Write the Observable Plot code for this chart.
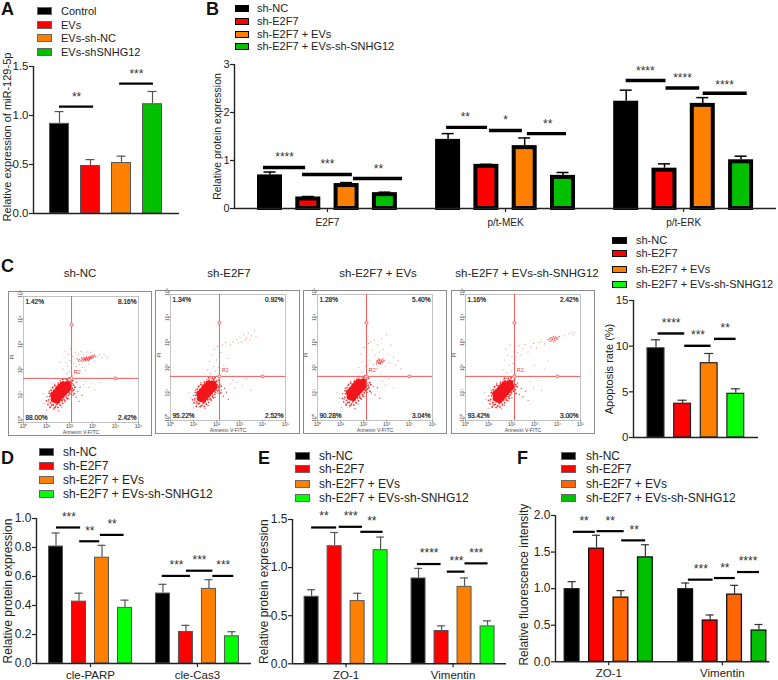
<!DOCTYPE html>
<html><head><meta charset="utf-8">
<style>
html,body{margin:0;padding:0;background:#fff}
body{position:relative;width:778px;height:680px;overflow:hidden;font-family:"Liberation Sans",Arial,sans-serif;color:#222}
.abs{position:absolute}
.letter{position:absolute;font-weight:bold;font-size:18px;line-height:18px;color:#111}
.leg{position:absolute;white-space:nowrap;line-height:12px}
.sw{position:absolute;box-sizing:border-box}
.ttl{position:absolute;font-size:11.5px;white-space:nowrap;transform:translateX(-50%)}
.flow{position:absolute;box-sizing:border-box;border:1px solid #8c8c8c}
</style>
</head><body>
<script src="https://cdn.jsdelivr.net/npm/d3@7"></script>
<script src="https://cdn.jsdelivr.net/npm/@observablehq/plot@0.6"></script>
<script>
// ---------- data ----------
const legendA = ["Control","EVs","EVs-sh-NC","EVs-shSNHG12"];
const legendB = ["sh-NC","sh-E2F7","sh-E2F7 + EVs","sh-E2F7 + EVs-sh-SNHG12"];
const colorsA = ["#000000","#ff0000","#ff8000","#00c000"];
const colorsC = ["#000000","#ff0000","#ff8000","#00ff00"];
const colorsF = ["#000000","#ff0000","#ff6600","#00c000"];

const aValues = [[0.92,0.49,0.52,1.12]];
const aErrors = [[1.04,0.55,0.585,1.245]];
const aSig = [[0,1.1,1.09,"**",0.55,1.22],[1.94,3.03,1.325,"***",2.48,1.45]];

const bGroups = ["E2F7","p/t-MEK","p/t-ERK"];
const bValues = [[0.70,0.24,0.52,0.33],[1.44,0.92,1.31,0.69],[2.235,0.84,2.19,1.015]];
const bErrors = [[0.76,0.25,0.54,0.34],[1.56,0.92,1.47,0.75],[2.465,0.93,2.31,1.09]];
const bSig = [[-0.17,0.93,0.854,"****",0.38,1.125],[0.85,2.15,0.708,"***",1.5,0.98],[2.18,3.46,0.625,"**",2.83,0.875],
 [4.61,5.68,1.69,"**",5.1,1.96],[5.73,6.59,1.625,"*",6.15,1.9],[6.72,7.74,1.56,"**",7.25,1.81],
 [9.3,10.34,2.667,"****",9.8,2.93],[10.34,11.22,2.51,"****",10.77,2.78],[11.31,12.46,2.4,"****",11.87,2.63]];

const cValues = [[9.82,3.76,8.2,4.85]];
const cErrors = [[10.7,4.08,9.2,5.33]];
const cSig = [[0.08,1.08,11.39,"****",0.57,12.85],[1.08,2.07,10.04,"***",1.58,11.54],[2.2,3.01,10.8,"**",2.6,12.3]];

const dGroups = ["cle-PARP","cle-Cas3"];
const dValues = [[0.81,0.43,0.733,0.387],[0.486,0.221,0.518,0.191]];
const dErrors = [[0.90,0.485,0.815,0.437],[0.546,0.263,0.578,0.219]];
const dSig = [[0.02,1.07,0.938,"***",0.56,1.032],[1.03,1.9,0.843,"**",1.47,0.935],[1.93,2.96,0.887,"**",2.44,0.984],
 [4.62,5.85,0.604,"***",5.24,0.698],[5.67,6.82,0.64,"***",6.24,0.735],[6.82,7.73,0.604,"***",7.27,0.698]];

const eGroups = ["ZO-1","Vimentin"];
const eValues = [[0.702,1.227,0.657,1.186],[0.892,0.346,0.805,0.394]];
const eErrors = [[0.77,1.365,0.733,1.317],[0.992,0.394,0.892,0.446]];
const eSig = [[0,1.09,1.417,"**",0.54,1.562],[1.2,2.21,1.424,"***",1.7,1.569],[2.14,3.11,1.372,"**",2.62,1.51],
 [4.6,5.63,1.037,"****",5.11,1.182],[5.9,6.67,0.958,"***",6.3,1.1],[6.67,7.67,1.044,"***",7.16,1.182]];

const fValues = [[1.0,1.555,0.886,1.436],[1.0,0.573,0.927,0.436]];
const fErrors = [[1.095,1.73,0.973,1.6],[1.077,0.64,1.045,0.51]];
const fSig = [[0.05,0.95,1.777,"**",0.49,1.964],[1.02,2.13,1.786,"**",1.56,1.968],[2.03,3.01,1.66,"**",2.54,1.84],
 [4.76,5.77,1.123,"***",5.27,1.309],[5.83,6.68,1.145,"**",6.25,1.327],[6.77,7.67,1.227,"****",7.2,1.418]];

// flow cytometry: log10(Annexin V-FITC), log10(PI)
const flowTitles = ["sh-NC","sh-E2F7","sh-E2F7 + EVs","sh-E2F7 + EVs-sh-SNHG12"];
const flowPercents = [["1.42%","8.16%","88.00%","2.42%"],["1.34%","0.92%","95.22%","2.52%"],["1.28%","5.40%","90.28%","3.04%"],["1.16%","2.42%","93.42%","3.00%"]];

const flowCore = [
 [[1.32,0.82],[1.42,0.92],[1.52,1.02],[1.62,1.12],[1.72,1.22],[1.82,1.32],[1.92,1.42],[1.30,1.0],[1.40,1.10],[1.50,1.20],[1.60,1.30],[1.70,1.40],[1.46,0.78],[1.56,0.88],[1.66,0.98],[1.76,1.08],[1.86,1.18],[1.94,1.28]],
 [[1.28,0.78],[1.38,0.88],[1.48,0.98],[1.58,1.08],[1.68,1.18],[1.78,1.28],[1.86,1.36],[1.26,0.96],[1.36,1.06],[1.46,1.16],[1.56,1.26],[1.66,1.36],[1.42,0.74],[1.52,0.84],[1.62,0.94],[1.72,1.04],[1.82,1.14],[1.9,1.24]],
 [[1.40,0.84],[1.50,0.94],[1.60,1.04],[1.70,1.14],[1.80,1.24],[1.90,1.34],[1.98,1.44],[1.38,1.02],[1.48,1.12],[1.58,1.22],[1.68,1.32],[1.78,1.42],[1.54,0.80],[1.64,0.90],[1.74,1.0],[1.84,1.10],[1.94,1.20],[2.02,1.30]],
 [[1.32,0.78],[1.42,0.86],[1.52,0.96],[1.62,1.06],[1.72,1.16],[1.82,1.26],[1.94,1.38],[1.30,0.96],[1.40,1.04],[1.50,1.14],[1.60,1.24],[1.72,1.34],[1.48,0.72],[1.58,0.82],[1.68,0.92],[1.78,1.02],[1.88,1.12],[1.98,1.24]]
];
const flowFringe = [
 [[1.1,0.8],[1.14,0.94],[1.18,0.68],[1.12,1.06],[1.2,1.18],[1.24,0.58],[1.26,1.28],[1.3,0.6],[1.34,0.7],[1.36,1.36],[1.4,0.54],[1.44,1.32],[1.46,0.62],[1.5,0.66],[1.52,1.42],[1.56,0.7],[1.6,0.58],[1.62,1.48],[1.66,0.76],[1.7,0.66],[1.72,1.52],[1.76,0.82],[1.8,0.76],[1.82,1.5],[1.86,0.9],[1.9,0.84],[1.92,1.56],[1.96,0.98],[2.0,1.06],[2.04,1.5],[2.02,1.2],[2.06,1.36],[2.1,1.12],[2.12,1.26],[2.16,1.18],[2.18,1.38],[2.2,1.04],[2.24,1.3],[1.06,0.62],[1.0,0.76],[1.16,0.5],[1.34,0.48],[1.5,0.5],[1.98,1.66],[1.86,1.62],[1.7,1.62],[2.14,1.56]],
 [[1.06,0.76],[1.1,0.9],[1.14,0.64],[1.08,1.02],[1.16,1.14],[1.2,0.56],[1.22,1.24],[1.26,0.58],[1.3,0.66],[1.32,1.32],[1.36,0.5],[1.4,1.3],[1.42,0.58],[1.46,0.62],[1.48,1.4],[1.52,0.66],[1.56,0.54],[1.58,1.44],[1.62,0.72],[1.66,0.62],[1.68,1.5],[1.72,0.78],[1.76,0.72],[1.78,1.46],[1.82,0.86],[1.86,0.8],[1.88,1.52],[1.92,0.94],[1.96,1.02],[2.0,1.44],[1.98,1.16],[2.02,1.32],[2.06,1.08],[2.08,1.22],[2.12,1.14],[2.14,1.34],[2.18,1.0],[2.2,1.26],[1.02,0.6],[0.96,0.72],[1.12,0.46],[1.3,0.46],[1.46,0.46],[1.94,1.6],[1.82,1.58],[1.66,1.6],[2.1,1.5]],
 [[1.18,0.82],[1.22,0.96],[1.26,0.7],[1.2,1.08],[1.28,1.2],[1.32,0.6],[1.34,1.3],[1.38,0.62],[1.42,0.72],[1.44,1.38],[1.48,0.56],[1.52,1.34],[1.54,0.64],[1.58,0.68],[1.6,1.44],[1.64,0.72],[1.68,0.6],[1.7,1.5],[1.74,0.78],[1.78,0.68],[1.8,1.54],[1.84,0.84],[1.88,0.78],[1.9,1.52],[1.94,0.92],[1.98,0.86],[2.0,1.58],[2.04,1.0],[2.08,1.08],[2.12,1.52],[2.1,1.22],[2.14,1.38],[2.18,1.14],[2.2,1.28],[2.24,1.2],[2.26,1.4],[2.28,1.06],[2.32,1.32],[1.14,0.64],[1.08,0.78],[1.24,0.52],[1.42,0.5],[1.58,0.52],[2.06,1.68],[1.94,1.64],[1.78,1.64],[2.22,1.58]],
 [[1.1,0.74],[1.14,0.88],[1.18,0.62],[1.12,1.0],[1.2,1.12],[1.24,0.52],[1.26,1.22],[1.3,0.54],[1.34,0.64],[1.36,1.3],[1.4,0.48],[1.44,1.28],[1.46,0.56],[1.5,0.6],[1.52,1.38],[1.56,0.64],[1.6,0.52],[1.62,1.42],[1.66,0.7],[1.7,0.6],[1.72,1.48],[1.76,0.76],[1.8,0.7],[1.82,1.46],[1.86,0.84],[1.9,0.78],[1.92,1.5],[1.96,0.92],[2.0,1.0],[2.04,1.46],[2.02,1.14],[2.06,1.3],[2.1,1.06],[2.12,1.2],[2.16,1.12],[2.18,1.32],[2.2,0.98],[2.24,1.24],[1.06,0.56],[1.0,0.7],[1.16,0.44],[1.34,0.42],[1.5,0.44],[1.98,1.6],[1.86,1.56],[1.7,1.58],[2.14,1.52]]
];
const flowHalo = [
 [[1.02,0.92],[1.08,0.72],[1.12,1.14],[1.15,0.55],[1.2,1.02],[1.22,0.62],[1.28,1.3],[1.3,0.42],[1.35,1.42],[1.38,0.5],[1.42,0.66],[1.5,1.48],[1.52,0.36],[1.58,0.6],[1.6,1.56],[1.66,0.52],[1.7,0.78],[1.75,1.62],[1.8,0.72],[1.88,0.92],[1.92,1.62],[1.96,0.84],[2.0,1.12],[2.02,1.56],[2.06,1.02],[2.08,1.3],[2.14,1.44],[2.16,0.98],[2.22,1.22],[2.28,0.9],[2.3,1.5],[2.36,1.12],[2.42,0.74],[2.46,1.3],[2.55,0.98],[2.6,2.38],[2.66,2.44],[2.7,2.4],[2.76,2.46],[2.8,2.42],[2.84,2.5],[2.88,2.46],[2.92,2.52],[2.96,2.48],[3.02,2.54],[2.56,2.42],[2.5,2.36],[2.72,2.34],[2.82,2.36],[3.08,2.58],[2.44,2.4],[2.62,2.48],[2.68,2.36],[2.74,2.5],[2.78,2.38],[2.86,2.42],[2.9,2.5],[2.94,2.44],[3.0,2.46],[3.04,2.5],[2.52,2.46],[2.58,2.32],[2.64,2.4],[2.7,2.46],[2.76,2.42],[2.82,2.46],[2.88,2.4],[2.98,2.56],[3.12,2.52],[2.4,2.34],[2.34,2.42]],
 [[1.0,0.9],[1.05,0.7],[1.1,1.1],[1.12,0.56],[1.18,1.0],[1.2,0.6],[1.24,1.28],[1.28,0.44],[1.32,1.4],[1.36,0.5],[1.4,0.64],[1.46,1.46],[1.5,0.38],[1.55,0.58],[1.58,1.52],[1.64,0.5],[1.68,0.74],[1.72,1.58],[1.78,0.7],[1.84,0.9],[1.9,1.58],[1.94,0.82],[1.98,1.1],[2.0,1.5],[2.06,0.98],[2.08,1.28],[2.12,1.4],[2.2,1.1],[2.3,0.86],[2.36,1.18],[2.44,1.02],[2.52,0.74]],
 [[1.1,0.96],[1.16,0.74],[1.2,1.18],[1.24,0.58],[1.28,1.06],[1.32,0.64],[1.36,1.34],[1.4,0.44],[1.45,1.46],[1.48,0.52],[1.54,0.68],[1.6,1.5],[1.62,0.38],[1.68,0.62],[1.72,1.58],[1.78,0.56],[1.82,0.8],[1.86,1.64],[1.92,0.74],[1.98,0.94],[2.02,1.62],[2.06,0.86],[2.1,1.14],[2.14,1.52],[2.18,1.02],[2.22,1.3],[2.28,1.42],[2.34,1.0],[2.42,1.26],[2.5,0.92],[2.6,1.2],[2.7,0.78],[2.64,2.2],[2.68,2.28],[2.72,2.22],[2.76,2.3],[2.8,2.24],[2.6,2.28],[2.84,2.34],[2.7,2.16],[2.56,2.14],[2.9,2.28],[2.62,2.24],[2.66,2.18],[2.7,2.3],[2.74,2.2],[2.78,2.26],[2.82,2.2],[2.58,2.22],[2.66,2.34],[2.86,2.26],[2.74,2.14]],
 [[1.02,0.88],[1.08,0.68],[1.12,1.08],[1.16,0.54],[1.2,0.98],[1.24,0.6],[1.28,1.26],[1.32,0.42],[1.36,1.38],[1.4,0.48],[1.46,0.62],[1.52,1.44],[1.56,0.36],[1.6,0.56],[1.66,1.52],[1.7,0.5],[1.76,0.72],[1.8,1.58],[1.86,0.68],[1.92,0.88],[1.98,1.58],[2.02,0.8],[2.06,1.08],[2.1,1.48],[2.16,0.96],[2.2,1.26],[2.26,1.38],[2.34,0.94],[2.42,1.18],[2.5,0.84],[2.62,1.06],[2.72,0.7],[3.7,3.12],[3.76,3.18],[3.8,3.14],[3.84,3.2],[3.88,3.16],[3.92,3.22],[3.74,3.06],[3.86,3.1],[3.96,3.14],[3.66,3.16],[4.02,3.2],[3.72,3.2],[3.78,3.1],[3.82,3.24],[3.9,3.08],[3.94,3.18],[4.0,3.12],[3.62,3.1],[3.68,3.04],[4.08,3.24],[3.84,3.02]]
];
const flowSparse = [
 [[1.72,2.02],[1.76,2.5],[1.8,2.74],[1.84,2.28],[1.88,1.84],[1.9,2.14],[1.95,2.62],[1.98,1.92],[2.02,2.36],[2.05,2.82],[2.08,2.08],[2.12,1.78],[2.15,2.52],[2.18,2.26],[2.22,1.96],[2.26,2.7],[2.3,2.12],[2.34,1.86],[2.38,2.6],[2.44,2.2],[2.5,2.72],[2.56,2.08],[2.62,2.62],[2.7,1.98],[2.76,2.7],[2.84,2.22],[2.92,2.7],[3.1,2.34],[3.2,2.52],[3.3,2.6],[3.42,2.46],[3.5,2.64],[3.58,2.55],[3.66,2.46],[2.6,1.4],[2.7,1.52],[2.82,1.3],[2.94,1.44],[3.1,1.2],[3.3,1.5],[0.9,0.66],[0.85,1.05],[1.0,0.4],[1.6,2.3]],
 [[1.6,1.9],[1.7,2.24],[1.74,1.76],[1.8,2.5],[1.86,2.06],[1.9,2.72],[1.95,1.86],[2.0,2.3],[2.04,2.84],[2.08,2.0],[2.12,1.76],[2.2,2.6],[2.26,2.9],[2.32,2.1],[2.4,3.0],[2.5,2.36],[2.6,2.9],[2.72,3.04],[2.86,3.12],[2.94,2.98],[3.02,3.2],[3.1,3.02],[3.18,3.3],[3.24,3.08],[3.3,3.16],[3.38,3.36],[3.46,3.1],[3.52,3.26],[3.66,3.46],[3.72,3.22],[2.6,1.36],[2.7,1.5],[2.8,1.2],[2.9,1.42],[3.12,1.3],[3.3,1.56],[3.5,1.1],[0.88,0.8],[0.8,1.0],[1.0,0.4]],
 [[1.8,2.0],[1.88,2.54],[1.92,1.8],[1.98,2.24],[2.02,2.8],[2.08,2.04],[2.14,2.6],[2.18,1.78],[2.22,2.96],[2.26,2.3],[2.3,3.02],[2.34,1.9],[2.38,2.7],[2.42,2.12],[2.48,3.1],[2.52,2.5],[2.58,1.96],[2.62,2.9],[2.7,2.62],[2.78,3.14],[2.86,2.72],[2.94,2.06],[3.0,3.3],[3.06,2.54],[3.12,2.2],[3.2,2.9],[3.3,2.4],[3.4,2.1],[3.5,2.28],[3.6,1.96],[2.8,1.5],[2.95,1.3],[3.1,1.56],[3.3,1.2],[0.95,0.8],[0.85,1.02],[1.05,0.42]],
 [[1.62,1.9],[1.7,2.3],[1.76,2.72],[1.8,1.8],[1.84,2.5],[1.9,2.1],[1.94,2.9],[1.98,1.86],[2.02,2.44],[2.06,2.16],[2.1,2.66],[2.14,1.76],[2.2,2.4],[2.26,2.6],[2.32,2.86],[2.4,2.5],[2.5,2.76],[2.6,2.92],[2.72,2.62],[2.84,2.82],[2.96,2.96],[3.08,2.78],[3.2,3.0],[3.3,3.06],[3.44,2.94],[3.56,3.1],[3.0,2.1],[3.42,1.94],[3.6,2.26],[4.3,3.26],[4.5,3.34],[4.62,3.4],[4.68,3.3],[4.76,3.38],[2.8,1.44],[2.96,1.22],[3.14,1.5],[3.3,1.1],[0.9,0.74],[0.84,1.0],[1.02,0.38]]
];

// ---------- helpers ----------
const FONT = '"Liberation Sans",Arial,sans-serif';
const GROUP_PERIOD = 4.65;

function addLegend(labels, colors, o){
  labels.forEach((t,i)=>{
    const s=document.createElement("div");s.className="sw";
    s.style.cssText=`left:${o.x}px;top:${o.rows[i]-o.h/2}px;width:${o.w}px;height:${o.h}px;background:${colors[i]};border:${o.bw}px solid ${o.bc}`;
    document.body.appendChild(s);
    const d=document.createElement("div");d.className="leg";d.textContent=t;
    d.style.cssText=`left:${o.tx}px;top:${o.rows[i]-6}px;font-size:${o.fs}px`;
    document.body.appendChild(d);
  });
}
function letter(t,x,y){const d=document.createElement("div");d.className="letter";d.textContent=t;d.style.left=x+"px";d.style.top=y+"px";document.body.appendChild(d);}

function barPanel(c){
  const ml=44, mr=6, mt=30, mb=26;
  const W=c.right-c.axisX, H=c.bottom-c.top;
  const xmin=(c.axisX-c.slot0)/c.step, xmax=(c.right-c.slot0)/c.step;
  const rows=[];
  c.values.forEach((g,i)=>g.forEach((v,j)=>rows.push({pos:j+GROUP_PERIOD*i,v,e:c.errors[i][j],color:c.colors[j]})));
  const hw=c.barW/c.step/2, hc=c.capW/c.step/2;
  const sig=c.sig.map(([a,b,y,label,lx,ly])=>({a,b,y,label,lx,ly}));
  const marks=[
    Plot.ruleX(rows,{x:"pos",y1:"v",y2:"e",stroke:c.errColor,strokeWidth:c.errW}),
    Plot.ruleY(rows,{y:"e",x1:d=>d.pos-hc,x2:d=>d.pos+hc,stroke:c.errColor,strokeWidth:c.errW}),
    Plot.rect(rows,{x1:d=>d.pos-hw,x2:d=>d.pos+hw,y1:0,y2:"v",fill:"color",stroke:c.barStroke,strokeWidth:c.barSW,
      insetLeft:c.barSW/2,insetRight:c.barSW/2,insetTop:c.barSW/2}),
    Plot.ruleX([xmin],{y1:0,y2:c.yMax,stroke:"#222",strokeWidth:1.4}),
    Plot.ruleY([0],{x1:xmin,x2:xmax,stroke:"#222",strokeWidth:1.4}),
    Plot.axisY({ticks:c.yTicks,tickFormat:c.yFmt,tickSize:4,tickPadding:1,label:null,fontSize:c.tickFs,fontFamily:FONT,stroke:"#222",strokeWidth:1.2}),
    Plot.text([c.yLabel],{frameAnchor:"left",rotate:-90,dx:-c.labelOff,dy:c.labelDy,fontSize:c.labelFs,fontFamily:FONT,fill:"#222",textAnchor:"middle"}),
    Plot.ruleY(sig,{y:"y",x1:"a",x2:"b",stroke:"#000",strokeWidth:c.sigW}),
    Plot.text(sig,{x:"lx",y:"ly",text:"label",fontSize:12,fontFamily:FONT,fill:"#333",dy:3})
  ];
  if(c.groups){
    const centers=c.groups.map((_,i)=>1.5+GROUP_PERIOD*i);
    marks.push(Plot.axisX({ticks:centers,tickFormat:v=>c.groups[centers.findIndex(z=>Math.abs(z-v)<1e-6)],tickSize:4,tickPadding:c.xPad,label:null,fontSize:c.xFs,fontFamily:FONT,stroke:"#222",strokeWidth:1.2}));
  } else {
    marks.push(Plot.axisX({ticks:[],label:null}));
  }
  const p=Plot.plot({width:W+ml+mr,height:H+mt+mb,marginLeft:ml,marginRight:mr,marginTop:mt,marginBottom:mb,
    x:{domain:[xmin,xmax]},y:{domain:[0,c.yMax]},style:{background:"transparent",overflow:"visible"},marks});
  p.style.position="absolute";p.style.left=(c.axisX-ml)+"px";p.style.top=(c.top-mt)+"px";p.style.maxWidth="none";
  document.body.appendChild(p);
}

const flowBoxes=[
 {fx:8,fy:291,fw:144,fh:145,ix:23,iy:296,cross:[2.09,1.65],tx:80},
 {fx:155,fy:290,fw:145,fh:144,ix:170,iy:294,cross:[2.13,1.65],tx:229},
 {fx:303,fy:290,fw:144,fh:144,ix:317,iy:294,cross:[2.13,1.65],tx:378},
 {fx:451,fy:290,fw:144,fh:144,ix:465,iy:294,cross:[2.13,1.65],tx:527}
];
const sup=["⁰","¹","²","³","⁴","⁵"];
function flowPanel(i){
  const b=flowBoxes[i], W=115, H=126;
  const f=document.createElement("div");f.className="flow";
  f.style.cssText=`left:${b.fx}px;top:${b.fy}px;width:${b.fw}px;height:${b.fh}px`;
  document.body.appendChild(f);
  const t=document.createElement("div");t.className="ttl";t.textContent=flowTitles[i];
  t.style.left=b.tx+"px";t.style.top="267px";document.body.appendChild(t);
  const ml=b.ix-b.fx, mt=b.iy-b.fy, mb=b.fh-H-mt, mr=b.fw-W-ml;
  const [cx,cy]=b.cross, pct=flowPercents[i], red="#f25c5c";
  const tick=v=>"10"+sup[v];
  const pctOpt={fontSize:6.5,fontFamily:FONT,fill:"#111",stroke:"#111",strokeWidth:0.2};
  const pts=a=>a.map(d=>({x:d[0],y:d[1]}));
  const p=Plot.plot({width:b.fw,height:b.fh,marginLeft:ml,marginRight:mr,marginTop:mt,marginBottom:mb,
    x:{domain:[0,5]},y:{domain:[-0.1,4.9]},style:{background:"transparent",overflow:"visible"},
    marks:[
      Plot.frame({stroke:"#999",strokeWidth:0.6}),
      Plot.dot(pts(flowSparse[i]),{x:"x",y:"y",r:0.55,fill:"#f0504f",fillOpacity:0.75}),
      Plot.dot(pts(flowHalo[i]),{x:"x",y:"y",r:0.7,fill:"#f0302f",fillOpacity:0.85}),
      Plot.dot(pts(flowFringe[i]),{x:"x",y:"y",r:0.9,fill:"#f0302f"}),
      Plot.dot(pts(flowCore[i]),{x:"x",y:"y",r:3.2,fill:"#f2161c"}),
      Plot.ruleX([cx],{stroke:red,strokeWidth:1}),
      Plot.ruleY([cy],{stroke:red,strokeWidth:1}),
      Plot.dot([[cx,3.78],[cx,cy],[4.0,cy]],{x:d=>d[0],y:d=>d[1],r:1.6,stroke:red,fill:"#ffd0d0",strokeWidth:0.8}),
      Plot.text(["R2"],{x:[cx+0.25],y:[cy+0.25],fontSize:5.5,fontFamily:FONT,fill:"#f04040"}),
      Plot.text([pct[0]],{frameAnchor:"top-left",dx:2,dy:3,...pctOpt}),
      Plot.text([pct[1]],{frameAnchor:"top-right",dx:-2,dy:3,...pctOpt}),
      Plot.text([pct[2]],{frameAnchor:"bottom-left",dx:2,dy:-3,...pctOpt}),
      Plot.text([pct[3]],{frameAnchor:"bottom-right",dx:-2,dy:-3,...pctOpt}),
      Plot.axisX({ticks:[0,1,2,3,4,5],tickFormat:tick,tickSize:1.5,tickPadding:0,label:null,fontSize:5,fontFamily:FONT,fill:"#444",stroke:"#888"}),
      Plot.axisY({ticks:[0,1,2,3,4,5],tickFormat:tick,tickSize:1.5,tickPadding:0,tickRotate:-90,label:null,fontSize:5,fontFamily:FONT,fill:"#444",stroke:"#888"}),
      Plot.text(["Annexin V-FITC"],{frameAnchor:"bottom",dy:11,fontSize:5.2,fontFamily:FONT,fill:"#444"}),
      Plot.text(["PI"],{frameAnchor:"left",rotate:-90,dx:-11,fontSize:5.2,fontFamily:FONT,fill:"#444"})
    ]});
  p.style.position="absolute";p.style.left=b.fx+"px";p.style.top=b.fy+"px";p.style.maxWidth="none";
  document.body.appendChild(p);
}

// ---------- panels ----------
const thin={barStroke:"#555",barSW:1,errColor:"#555",errW:1.2,sigW:2.2};
barPanel({...thin,axisX:33,right:179,top:66,bottom:213,slot0:59,step:31,barW:20,capW:9,values:aValues,errors:aErrors,colors:colorsA,sig:aSig,
  yMax:1.5,yTicks:[0,0.5,1,1.5],yFmt:d3.format(".1f"),yLabel:"Relative expression of miR-129-5p",labelOff:26,labelDy:-3,labelFs:11,tickFs:11.5});
barPanel({axisX:234,right:776,top:64,bottom:208,slot0:269.5,step:38.3,barW:25,capW:12,values:bValues,errors:bErrors,colors:colorsA,sig:bSig,groups:bGroups,
  barStroke:"#000",barSW:4,errColor:"#000",errW:1.5,sigW:3.4,yMax:3,yTicks:[0,1,2,3],yFmt:d3.format("d"),yLabel:"Relative protein expression",labelOff:17,labelDy:0,labelFs:10.5,tickFs:11,xFs:10,xPad:6});
barPanel({axisX:633,right:758,top:300,bottom:437,slot0:655.5,step:26.6,barW:18,capW:9,values:cValues,errors:cErrors,colors:colorsC,sig:cSig,
  barStroke:"#222",barSW:1.2,errColor:"#333",errW:1.2,sigW:2.4,yMax:15,yTicks:[0,5,10,15],yFmt:d3.format("d"),yLabel:"Apoptosis rate (%)",labelOff:24,labelDy:0,labelFs:11,tickFs:11.5});
barPanel({...thin,axisX:36,right:251,top:518,bottom:663,slot0:55.5,step:23,barW:15,capW:8,values:dValues,errors:dErrors,colors:colorsC,sig:dSig,groups:dGroups,
  yMax:1,yTicks:[0,0.2,0.4,0.6,0.8,1],yFmt:d3.format(".1f"),yLabel:"Relative protein expression",labelOff:28,labelDy:0,labelFs:12,tickFs:12,xFs:11.5,xPad:3});
barPanel({...thin,axisX:291.7,right:505.7,top:518.7,bottom:663,slot0:310.8,step:23,barW:15,capW:8,values:eValues,errors:eErrors,colors:colorsC,sig:eSig,groups:eGroups,
  yMax:1.5,yTicks:[0,0.5,1,1.5],yFmt:d3.format(".1f"),yLabel:"Relative protein expression",labelOff:28,labelDy:0,labelFs:12,tickFs:12,xFs:11.5,xPad:3});
barPanel({axisX:554.7,right:769,top:514.7,bottom:661,slot0:571.3,step:24.43,barW:16,capW:8,values:fValues,errors:fErrors,colors:colorsF,sig:fSig,groups:eGroups,
  barStroke:"#111",barSW:1.3,errColor:"#333",errW:1.2,sigW:2.2,yMax:2,yTicks:[0,0.5,1,1.5,2],yFmt:d3.format(".1f"),yLabel:"Relative fluorescence intensity",labelOff:31,labelDy:-4,labelFs:12,tickFs:12,xFs:11.5,xPad:3});
[0,1,2,3].forEach(flowPanel);

addLegend(legendA,colorsA,{x:37,w:15,h:8,bw:1,bc:"#666",rows:[11,25,38,52],tx:61,fs:11});
addLegend(legendB,colorsA,{x:235,w:14,h:7,bw:1.5,bc:"#000",rows:[8,21,34,46],tx:257,fs:11});
addLegend(legendB,colorsC,{x:612,w:15,h:7,bw:1.5,bc:"#111",rows:[240,253,269,284],tx:636,fs:11});
addLegend(legendB,colorsC,{x:39,w:15,h:8,bw:1,bc:"#666",rows:[452,466,480,494],tx:63,fs:12});
addLegend(legendB,colorsC,{x:295,w:15,h:8,bw:1,bc:"#666",rows:[456,469,484,498],tx:319,fs:12});
addLegend(legendB,colorsF,{x:561,w:15,h:8,bw:1,bc:"#666",rows:[456,469,484,498],tx:586,fs:12});

letter("A",1,0);letter("B",206,0);letter("C",1,257);letter("D",1,449);letter("E",258,449);letter("F",517,449);
</script>
</body></html>
